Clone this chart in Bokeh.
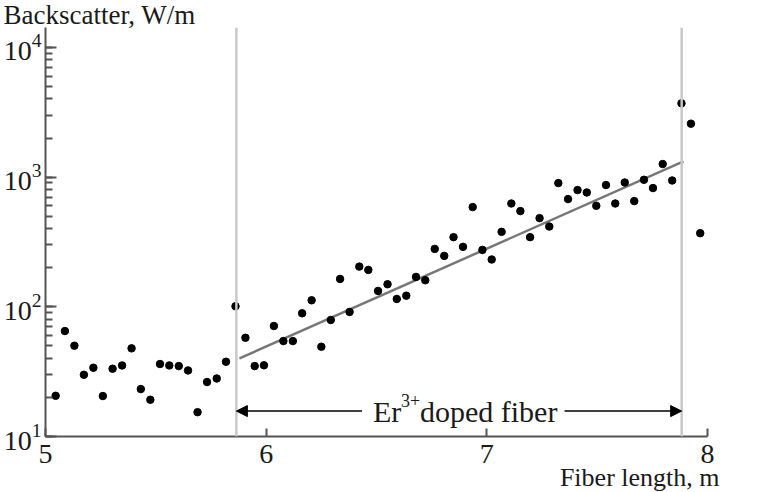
from bokeh.plotting import figure
from bokeh.models import Range1d, Span, Arrow, NormalHead, Title, FixedTicker, LogTicker
from bokeh.core.properties import value
from bokeh.embed import file_html
from bokeh.resources import INLINE

# ---- data ----
fiber_length = [5.046, 5.088, 5.131, 5.174, 5.217, 5.260, 5.304, 5.347, 5.390, 5.432,
                5.475, 5.519, 5.561, 5.604, 5.646, 5.689, 5.732, 5.776, 5.818, 5.861,
                5.906, 5.948, 5.990, 6.035, 6.078, 6.121, 6.163, 6.206, 6.250, 6.293,
                6.335, 6.378, 6.422, 6.463, 6.507, 6.550, 6.592, 6.635, 6.679, 6.721,
                6.764, 6.807, 6.849, 6.892, 6.936, 6.980, 7.022, 7.067, 7.111, 7.152,
                7.196, 7.239, 7.283, 7.324, 7.368, 7.411, 7.453, 7.496, 7.540, 7.582,
                7.625, 7.668, 7.712, 7.753, 7.797, 7.840, 7.882, 7.925, 7.967]
backscatter = [20.6, 65.0, 50.1, 29.9, 33.9, 20.5, 33.3, 35.3, 47.8, 23.2,
               19.2, 36.2, 35.3, 34.9, 32.3, 15.4, 26.3, 28.0, 37.7, 100.9,
               57.7, 34.9, 35.4, 71.1, 54.4, 54.4, 89.1, 112.2, 49.2, 79.1,
               163.9, 91.2, 204.0, 192.4, 132.4, 149.2, 114.9, 121.8, 169.9, 160.2,
               279.4, 246.8, 344.1, 289.6, 586.6, 274.5, 231.5, 378.1, 625.4, 546.5,
               344.1, 482.4, 415.5, 898.6, 676.2, 793.5, 760.4, 600.4, 867.6, 625.4,
               908.2, 652.6, 953.3, 822.6, 1260.0, 941.2, 3701.0, 2579.0, 369.5]
fit_x = [5.879, 7.891]
fit_y = [40.0, 1320.0]
doped_start = 5.865
doped_end = 7.883
x_ticks = [5, 6, 7, 8]
y_label = "Backscatter, W/m"
x_label = "Fiber length, m"

FONT = "Liberation Serif"
AX = "#555555"
TXT = "#1a1a1a"

p = figure(width=774, height=492,
           x_range=Range1d(5, 8), y_range=Range1d(10, 14220),
           y_axis_type="log", output_backend="svg", toolbar_location=None,
           min_border_left=38, min_border_right=67, min_border_top=24, min_border_bottom=56)
p.outline_line_color = None
p.grid.visible = False
p.background_fill_color = "white"
p.border_fill_color = "white"

for ax in (p.xaxis[0], p.yaxis[0]):
    ax.axis_line_color = AX
    ax.axis_line_width = 2
    ax.major_tick_line_color = AX
    ax.major_tick_line_width = 2
    ax.minor_tick_line_color = AX
    ax.minor_tick_line_width = 2
    ax.major_label_text_font = FONT
    ax.major_label_text_font_size = "28px"
    ax.major_label_text_color = TXT
    ax.major_tick_out = 0
    ax.minor_tick_out = 0

p.xaxis.ticker = FixedTicker(ticks=x_ticks)
p.xaxis.major_tick_in = 8
p.xaxis.minor_tick_line_color = None
p.xaxis.major_label_standoff = 8
p.yaxis.ticker = LogTicker(num_minor_ticks=10)
p.yaxis.major_tick_in = 11
p.yaxis.minor_tick_in = 7
p.yaxis.major_label_standoff = 4

# vertical boundary lines of the doped fiber
for loc in (doped_start, doped_end):
    p.add_layout(Span(location=loc, dimension="height", line_color="#c8c8c8", line_width=2.5))

# fit line and data points
p.line(fit_x, fit_y, line_color="#777777", line_width=2.5)
p.scatter(fiber_length, backscatter, size=7.5, color="black")

# arrows with label
arrow_y = 15.7
p.add_layout(Arrow(x_start=6.434, y_start=arrow_y, x_end=doped_start, y_end=arrow_y,
                   line_color="black", line_width=1.5,
                   end=NormalHead(size=11, fill_color="black", line_color="black")))
p.add_layout(Arrow(x_start=7.352, y_start=arrow_y, x_end=doped_end, y_end=arrow_y,
                   line_color="black", line_width=1.5,
                   end=NormalHead(size=11, fill_color="black", line_color="black")))
p.text(x=[6.484], y=[arrow_y], text=["Er"], text_font=value(FONT), text_font_size="30px",
       text_baseline="middle", text_align="left", text_color=TXT)
p.text(x=[6.484], y=[arrow_y], text=["3+"], text_font=value(FONT), text_font_size="18px",
       text_baseline="middle", text_align="left", text_color=TXT, x_offset=28, y_offset=-11)
p.text(x=[6.484], y=[arrow_y], text=["doped fiber"], text_font=value(FONT), text_font_size="30px",
       text_baseline="middle", text_align="left", text_color=TXT, x_offset=47)

# axis titles as panel titles (not clipped by the frame)
p.add_layout(Title(text=y_label, align="left", offset=-42, standoff=-5,
                   text_font=FONT, text_font_size="27px", text_font_style="normal",
                   text_color=TXT), "above")
p.add_layout(Title(text=x_label, align="right", offset=-12, standoff=-10,
                   text_font=FONT, text_font_size="26px", text_font_style="normal",
                   text_color=TXT), "below")

open("out.html", "w").write(file_html(p, INLINE))
